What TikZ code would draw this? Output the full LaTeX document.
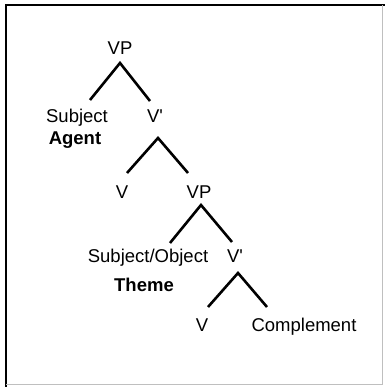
\documentclass[tikz,border=0pt]{standalone}
\usepackage{fontspec}
\setmainfont{Liberation Sans}
\begin{document}
\begin{tikzpicture}[x=1pt,y=-1pt,
  lab/.style={anchor=base, inner sep=0pt, font=\fontsize{18.5}{20}\selectfont},
  role/.style={anchor=base, inner sep=0pt, font=\fontsize{18.5}{20}\selectfont\bfseries},
  branch/.style={line width=2.6pt, line join=miter}]
\useasboundingbox (0,0) rectangle (385,387);
\draw[line width=2pt] (6,387) -- (6,5) -- (385,5);
\draw[black!25, line width=0.8pt] (382,5) -- (382,384) -- (6,384);
% labels
\node[lab]  (vp1)   at (120,55)  {VP};
\node[lab]  (subj)  at (77,123)  {Subject};
\node[role] (agent) at (75,145)  {Agent};
\node[lab]  (vb1)   at (155,123) {V\textquotesingle};
\node[lab]  (v1)    at (122,198) {V};
\node[lab]  (vp2)   at (199,198) {VP};
\node[lab]  (so)    at (148,262) {Subject/Object};
\node[role] (theme) at (144,291) {Theme};
\node[lab]  (vb2)   at (235,262) {V\textquotesingle};
\node[lab]  (v2)    at (202,331) {V};
\node[lab]  (comp)  at (304,331) {Complement};
% branch points
\coordinate (t1) at (120,63);  \coordinate (l1) at (90,100);  \coordinate (r1) at (150,101);
\coordinate (t2) at (158,138); \coordinate (l2) at (127,173); \coordinate (r2) at (188,173);
\coordinate (t3) at (201,205); \coordinate (l3) at (170,243); \coordinate (r3) at (232,242);
\coordinate (t4) at (238,273); \coordinate (l4) at (208,307); \coordinate (r4) at (267,307);
\draw[branch] (l1) -- (t1) -- (r1);
\draw[branch] (l2) -- (t2) -- (r2);
\draw[branch] (l3) -- (t3) -- (r3);
\draw[branch] (l4) -- (t4) -- (r4);
\end{tikzpicture}
\end{document}
